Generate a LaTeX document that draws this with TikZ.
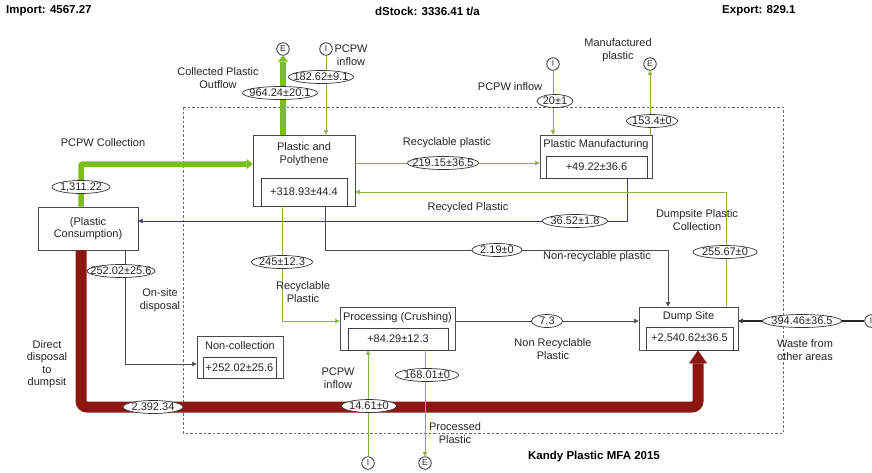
\documentclass[tikz,border=0pt]{standalone}
\usepackage{fontspec}
\setmainfont{Liberation Sans}
\usetikzlibrary{arrows.meta,shapes.geometric}

\definecolor{flowgreen}{RGB}{122,190,28}
\definecolor{linegreen}{RGB}{140,175,70}
\definecolor{flowred}{RGB}{140,22,16}
\definecolor{recycblue}{RGB}{55,58,110}

\newcommand\mfafont{\fontsize{11}{12.5}\selectfont}

\tikzset{
  smalltip/.tip={Triangle[length=4.5pt, width=4.5pt, line width=0.4pt]},
  bigtip/.tip={Triangle[length=6pt, width=10pt, line width=0.4pt]},
  redtip/.tip={Triangle[length=13pt, width=18pt, line width=0.4pt]},
}

\begin{document}
\begin{tikzpicture}[x=1pt, y=-1pt,
  every node/.style={text=black!85},
  flowbox/.style={draw=black!70, line width=0.8pt, fill=white, inner sep=0pt},
  stockbox/.style={draw=black!75, line width=0.9pt, inner sep=0pt, font=\mfafont},
  boxtitle/.style={align=center, inner sep=0pt, font=\mfafont},
  note/.style={align=center, inner sep=0pt, font=\mfafont},
  flowlabel/.style={ellipse, draw=black!80, line width=0.7pt, fill=white, inner xsep=-15pt, inner ysep=0pt, minimum height=13pt, minimum width=#1, font=\mfafont},
  port/.style={circle, draw=black!80, line width=0.8pt, fill=white, minimum size=12.5pt, inner sep=0pt, font=\fontsize{8.5}{8.5}\selectfont},
  sumtext/.style={font=\bfseries\fontsize{11.5}{13}\selectfont, inner sep=0pt, text=black},
  greenflow/.style={draw=linegreen, line width=1pt, -smalltip},
  thickflow/.style={draw=flowgreen, line width=5.5pt, -bigtip},
  greyflow/.style={draw=black!70, line width=1pt, -smalltip},
  blueflow/.style={draw=recycblue, line width=1pt, -smalltip},
  redflow/.style={draw=flowred, line width=11pt, rounded corners=6pt, -redtip},
  sysline/.style={draw=black!60, line width=0.8pt, dash pattern=on 2.5pt off 2pt},
]
\useasboundingbox (0,0) rectangle (872,472);

% balance figures
\node[sumtext, anchor=west] (import) at (6,11) {Import: 4567.27};
\node[sumtext, anchor=west] (dstock) at (375,11) {dStock: 3336.41 t/a};
\node[sumtext, anchor=west] (export) at (722,11) {Export: 829.1};

% system boundary
\draw[sysline] (183,107) rectangle (783,433);

% processes with stocks
\node[flowbox, minimum width=102pt, minimum height=71pt] (pp) at (304,170.5) {};
\node[stockbox, minimum width=86pt, minimum height=28pt] (ppstock) at (304,192) {+318.93±44.4};
\node[boxtitle] at (304,154) {Plastic and\\Polythene};

\node[flowbox, minimum width=112pt, minimum height=43pt] (pm) at (596,156.5) {};
\node[stockbox, minimum width=101pt, minimum height=22pt] (pmstock) at (596.5,167) {+49.22±36.6};
\node[boxtitle] at (596,145) {Plastic Manufacturing};

\node[flowbox, boxtitle, minimum width=100pt, minimum height=43pt] (cons) at (88,228.5) {(Plastic\\Consumption)};

\node[flowbox, minimum width=115pt, minimum height=43pt] (proc) at (397.5,328.5) {};
\node[stockbox, minimum width=100pt, minimum height=22pt] (procstock) at (398,339) {+84.29±12.3};
\node[boxtitle] at (397.5,318) {Processing (Crushing)};

\node[flowbox, minimum width=86pt, minimum height=42pt] (noncol) at (240,357) {};
\node[stockbox, minimum width=73pt, minimum height=21pt] (noncolstock) at (239.5,367.5) {+252.02±25.6};
\node[boxtitle] at (240,346) {Non-collection};

\node[flowbox, minimum width=99pt, minimum height=43pt] (dump) at (688.5,328.5) {};
\node[stockbox, minimum width=87pt, minimum height=23pt] (dumpstock) at (689.5,338.5) {+2,540.62±36.5};
\node[boxtitle] at (688.5,317) {Dump Site};

% imports and exports
\node[port] (eout) at (283,49) {E};
\node[port] (iin) at (326,49) {I};
\node[port] (iman) at (553,64) {I};
\node[port] (eman) at (650,64) {E};
\node[port] (iproc) at (368,463) {I};
\node[port] (eproc) at (425,463) {E};
\node[port] (iwaste) at (871,321) {I};

% flows
\draw[thickflow] (pp.north -| eout) -- (eout);
\draw[greenflow] (iin) -- (pp.north -| iin);
\draw[thickflow, rounded corners=2pt] (cons.north -| 81,0) |- (pp.west |- 0,164);
\draw[greenflow] (pp.east |- 0,163) -- (pm.west |- 0,163);
\draw[greenflow] (iman) -- (pm.north -| iman);
\draw[greenflow] (pm.north -| eman) -- (eman);
\draw[blueflow] (pm.south -| 627,0) |- (cons.east |- 0,221);
\draw[greenflow] (dump.north -| 726,0) |- (pp.east |- 0,192);
\coordinate (nrbend) at (668,250);
\draw[greyflow] (pp.south -| 325,0) |- (nrbend) -- (dump.north -| nrbend);
\draw[greyflow] (cons.south -| 125,0) |- (noncol.west |- 0,364);
\coordinate (ddbend) at (698,407);
\draw[redflow] (cons.south -| 81,0) |- (ddbend) -- (dump.south -| ddbend);
\draw[greenflow] (pp.south -| 282,0) |- (proc.west |- 0,321);
\draw[greyflow] (proc.east |- 0,321) -- (dump.west |- 0,321);
\draw[greenflow] (iproc) -- (proc.south -| iproc);
\draw[greenflow] (proc.south -| eproc) -- (eproc);
\draw[draw=black!85, line width=1.6pt, -smalltip] (iwaste) -- (dump.east |- iwaste);

% flow values
\node[flowlabel=75pt] (qout) at (280,93) {964.24±20.1};
\node[flowlabel=65pt] (qin) at (321,77) {182.62±9.1};
\node[flowlabel=58pt] (qcol) at (81,187) {1,311.22};
\node[flowlabel=71pt] (qrec) at (443,163) {219.15±36.5};
\node[flowlabel=36pt] (qmanin) at (555,101) {20±1};
\node[flowlabel=51pt] (qmanout) at (652,121) {153.4±0};
\node[flowlabel=65pt] (qrecyc) at (575,221) {36.52±1.8};
\node[flowlabel=64pt] (qdumpcol) at (725,252) {255.67±0};
\node[flowlabel=50pt] (qnonrec) at (497,250) {2.19±0};
\node[flowlabel=68pt] (qonsite) at (121,271) {252.02±25.6};
\node[flowlabel=60pt] (qdirect) at (153,407) {2,392.34};
\node[flowlabel=61pt] (qproc) at (282,262) {245±12.3};
\node[flowlabel=31pt] (qcrush) at (547,321) {7.3};
\node[flowlabel=55pt] (qprocin) at (369,406) {14.61±0};
\node[flowlabel=63pt] (qprocout) at (427,375) {168.01±0};
\node[flowlabel=79pt] (qwaste) at (802,321) {394.46±36.5};

% flow names
\node[note] at (218,78) {Collected Plastic\\Outflow};
\node[note] at (351,55) {PCPW\\inflow};
\node[note] at (103,143) {PCPW Collection};
\node[note] at (447,143) {Recyclable plastic};
\node[note] at (510,87) {PCPW inflow};
\node[note] at (618,50) {Manufactured\\plastic};
\node[note] at (468,208) {Recycled Plastic};
\node[note] at (697,220) {Dumpsite Plastic\\Collection};
\node[note] at (597,257) {Non-recyclable plastic};
\node[note] at (160,300) {On-site\\disposal};
\node[note] at (303,292) {Recyclable\\Plastic};
\node[note] at (553,349) {Non Recyclable\\Plastic};
\node[note] at (338,378) {PCPW\\inflow};
\node[note] at (455,433) {Processed\\Plastic};
\node[note] at (805,350) {Waste from\\other areas};
\node[note] at (47,364) {Direct\\disposal\\to\\dumpsit};

\node[sumtext] (title) at (594,457) {Kandy Plastic MFA 2015};
\end{tikzpicture}
\end{document}
